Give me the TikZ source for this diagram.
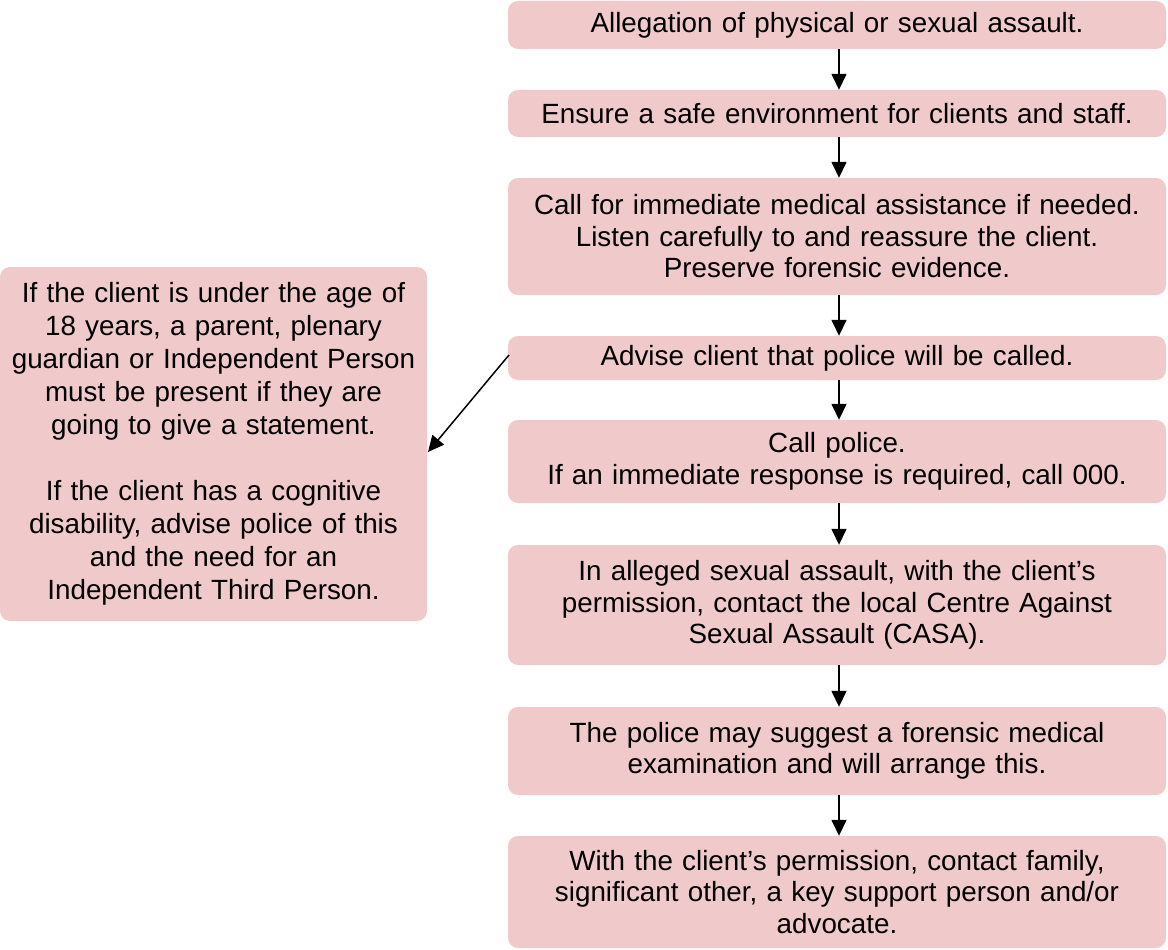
\documentclass[tikz,border=0pt]{standalone}
\usepackage{fontspec}
\setmainfont{Liberation Sans}
\usetikzlibrary{arrows.meta}
\definecolor{boxpink}{RGB}{240,201,203}
\begin{document}
\begin{tikzpicture}[x=1pt,y=1pt,
  box/.style={fill=boxpink, draw=none, rounded corners=10pt, inner sep=0pt,
    align=center, font=\fontsize{27.8}{31.5}\selectfont},
  rbox/.style={box, minimum width=658pt, text width=650pt},
  arr/.style={line width=1.5pt, -{Triangle[width=15pt,length=16pt]}}]
\useasboundingbox (0,0) rectangle (1168,-950);
\node[rbox, minimum height=48pt] (b1) at (837,-25) {\raisebox{-4pt}{Allegation of physical or sexual assault.}};
\node[rbox, minimum height=47pt] (b2) at (837,-113.5) {\raisebox{-2pt}{Ensure a safe environment for clients and staff.}};
\node[rbox, minimum height=117pt] (b3) at (837,-236.5) {Call for immediate medical assistance if needed.\\Listen carefully to and reassure the client.\\Preserve forensic evidence.};
\node[rbox, minimum height=44pt] (b4) at (837,-358) {\raisebox{-4pt}{Advise client that police will be called.}};
\node[rbox, minimum height=83pt] (b5) at (837,-461.5) {Call police.\\If an immediate response is required, call 000.};
\node[rbox, minimum height=120pt] (b6) at (837,-605) {In alleged sexual assault, with the client’s\\permission, contact the local Centre Against\\Sexual Assault (CASA).};
\node[rbox, minimum height=88pt] (b7) at (837,-751) {The police may suggest a forensic medical\\examination and will arrange this.};
\node[rbox, minimum height=112pt] (b8) at (837,-892) {With the client’s permission, contact family,\\significant other, a key support person and/or\\advocate.};
\node[box, minimum width=427pt, minimum height=354pt, text width=425pt, font=\fontsize{27.8}{33}\selectfont] (l) at (213.5,-444) {If the client is under the age of\\18 years, a parent, plenary\\guardian or Independent Person\\must be present if they are\\going to give a statement.\\[33pt]If the client has a cognitive\\disability, advise police of this\\and the need for an\\Independent Third Person.};
\draw[arr] ([xshift=2pt]b1.south) -- ([xshift=2pt]b2.north);
\draw[arr] ([xshift=2pt]b2.south) -- ([xshift=2pt]b3.north);
\draw[arr] ([xshift=2pt]b3.south) -- ([xshift=2pt]b4.north);
\draw[arr] ([xshift=2pt]b4.south) -- ([xshift=2pt]b5.north);
\draw[arr] ([xshift=2pt]b5.south) -- ([xshift=2pt]b6.north);
\draw[arr] ([xshift=2pt]b6.south) -- ([xshift=2pt]b7.north);
\draw[arr] ([xshift=2pt]b7.south) -- ([xshift=2pt]b8.north);
\coordinate (s) at (509,-355);
\coordinate (e) at (428,-452);
\draw[arr] (s) -- (e);
\end{tikzpicture}
\end{document}
